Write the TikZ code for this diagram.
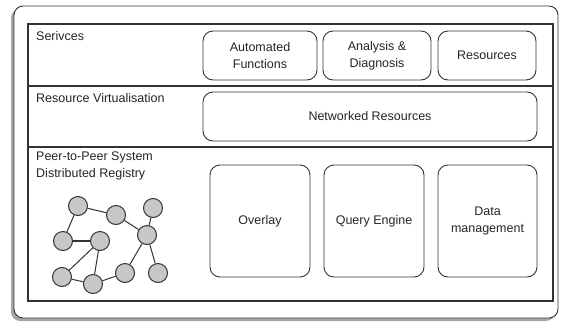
\documentclass[tikz,border=0pt]{standalone}
\usepackage{fontspec}
\setmainfont{Liberation Sans}
\begin{document}
\begin{tikzpicture}[x=1pt,y=-1pt,
  every node/.style={font=\fontsize{12.5}{17}\selectfont, text=black!85},
  rbox/.style={draw=black!80, line width=0.9pt, rounded corners=10pt, align=center},
  lbl/.style={anchor=north west, inner sep=0pt, align=left},
  peer/.style={circle, draw=black!80, fill=black!22, line width=1pt, minimum size=19pt, inner sep=0pt},
  link/.style={draw=black!80, line width=1pt}]
\useasboundingbox (0,0) rectangle (567,322);
% outer frame with shadow
\fill[black!35, rounded corners=9pt] (11,9) rectangle (555,321);
\draw[black!80, fill=white, line width=0.9pt, rounded corners=9pt] (14,6) rectangle (558,318);
% inner frame and rows
\draw[black!80, line width=1.1pt] (28,24) rectangle (553,301);
\draw[black!80, line width=1.1pt] (28,86) -- (553,86);
\draw[black!80, line width=1.1pt] (28,147) -- (553,147);
% row labels
\node[lbl] (l1) at (36,31) {Serivces};
\node[lbl] (l2) at (36,93) {Resource Virtualisation};
\node[lbl] (l3) at (36,152) {Peer-to-Peer System\\Distributed Registry};
% services
\node[rbox, minimum width=114pt, minimum height=49pt] (af) at (260,55.5) {Automated\\Functions};
\node[rbox, minimum width=108pt, minimum height=49pt] (ad) at (377,55.5) {Analysis \&\\Diagnosis};
\node[rbox, minimum width=98pt, minimum height=49pt] (rs) at (487,55.5) {Resources};
% virtualisation
\node[rbox, minimum width=334pt, minimum height=49pt] (nr) at (370,116.5) {Networked Resources};
% registry
\node[rbox, minimum width=100pt, minimum height=112pt] (ov) at (260,221) {Overlay};
\node[rbox, minimum width=100pt, minimum height=112pt] (qe) at (374,221) {Query Engine};
\node[rbox, minimum width=99pt, minimum height=112pt] (dm) at (487.5,221) {Data\\management};
% peer graph
\node[peer] (p1) at (78,206) {};
\node[peer] (p2) at (116,215) {};
\node[peer] (p3) at (153,208) {};
\node[peer] (p4) at (63,241) {};
\node[peer] (p5) at (100,241) {};
\node[peer] (p6) at (147,235) {};
\node[peer] (p7) at (62,277) {};
\node[peer] (p8) at (93,284) {};
\node[peer] (p9) at (125,273) {};
\node[peer] (p10) at (158,273) {};
\begin{scope}[on background layer/.try]
\end{scope}
\draw[link] (p1) -- (p2);
\draw[link] (p1) -- (p4);
\draw[link] (p2) -- (p6);
\draw[link] (p3) -- (p6);
\draw[link, line width=1.6pt] (p4) -- (p5);
\draw[link] (p5) -- (p7);
\draw[link] (p5) -- (p8);
\draw[link] (p7) -- (p8);
\draw[link] (p8) -- (p9);
\draw[link] (p9) -- (p6);
\draw[link] (p6) -- (p10);
\end{tikzpicture}
\end{document}
